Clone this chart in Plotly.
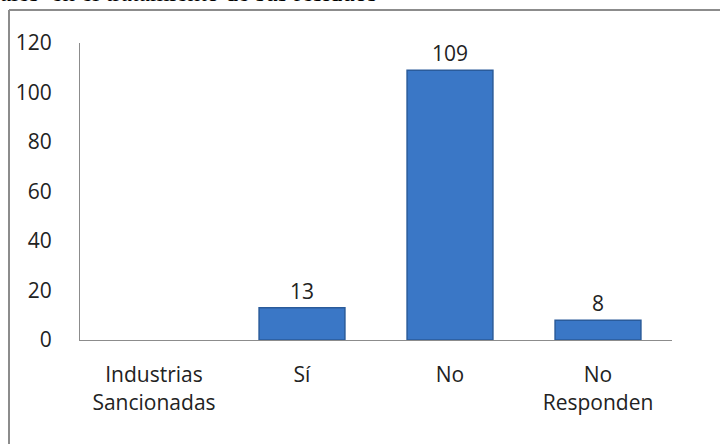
import plotly.graph_objects as go

categories = ["Industrias<br>Sancionadas", "Sí", "No", "No<br>Responden"]
values = [None, 13, 109, 8]
y_ticks = [0, 20, 40, 60, 80, 100, 120]

fig = go.Figure(data=[
    go.Bar(
        x=categories,
        y=values,
        width=0.58,
        marker=dict(color='#3a77c6', line=dict(color='#2a5b9a', width=1.5)),
        text=[f'{v}' if v is not None else '' for v in values],
        textposition='outside',
        textfont=dict(family='Open Sans', size=21, color='#222222'),
        cliponaxis=False,
    )
])

fig.update_layout(
    width=720,
    height=444,
    paper_bgcolor='white',
    plot_bgcolor='white',
    showlegend=False,
    margin=dict(l=80, r=48, t=43, b=104),
    font=dict(family='Open Sans', size=21, color='#222222'),
    xaxis=dict(
        showline=True, linecolor='#8c8c8c', linewidth=1,
        ticks='', showgrid=False, automargin=False,
        ticklabelstandoff=16,
        tickfont=dict(family='Open Sans', size=21, color='#222222'),
    ),
    yaxis=dict(
        range=[0, 120], tickvals=y_ticks,
        showline=True, linecolor='#8c8c8c', linewidth=1,
        ticks='', showgrid=False, zeroline=False, automargin=False,
        ticklabelstandoff=23,
        tickfont=dict(family='Open Sans', size=21, color='#222222'),
    ),
)

# outer border of the embedded chart (only the top and left edges are visible)
pw = 720 - 80 - 48
ph = 444 - 43 - 104
x0 = (9 - 80) / pw
y0 = (444 - 104 - 10) / ph
fig.add_shape(type='line', xref='paper', yref='paper',
              x0=x0, x1=(730 - 80) / pw, y0=y0, y1=y0,
              line=dict(color='#8c8c8c', width=2))
fig.add_shape(type='line', xref='paper', yref='paper',
              x0=x0, x1=x0, y0=y0, y1=(444 - 104 - 460) / ph,
              line=dict(color='#8c8c8c', width=2))

# clipped caption text from the page above the chart
fig.add_annotation(
    text='ales  en el tratamiento de sus residuos',
    xref='paper', yref='paper',
    x=(-2 - 80) / pw, y=(444 - 104 - 8) / ph,
    xanchor='left', yanchor='bottom', showarrow=False,
    font=dict(family='Liberation Serif', size=25, color='black'),
)

fig.write_html("out.html", config={'displayModeBar': False},
               post_script="document.body.style.margin='0';")
